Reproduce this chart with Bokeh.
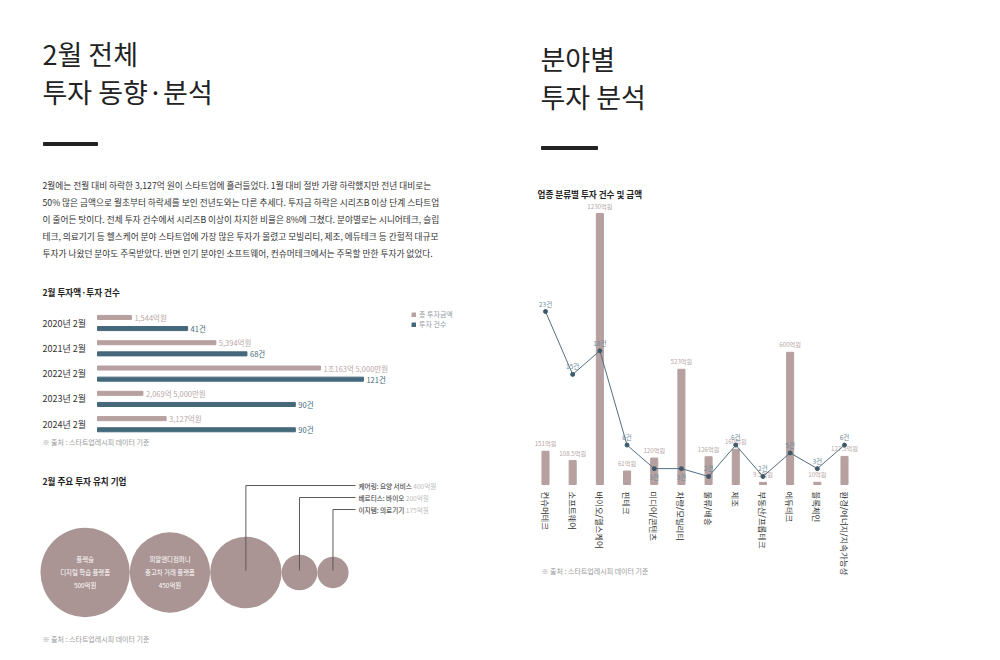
import math
from bokeh.plotting import figure
from bokeh.models import Range1d, ColumnDataSource, Legend, LegendItem
from bokeh.transform import dodge
from bokeh.embed import file_html
from bokeh.resources import INLINE
from bokeh.core.properties import value

FONT = value("Noto Sans CJK KR")

# ---------------- data ----------------
years = ["2020년 2월", "2021년 2월", "2022년 2월", "2023년 2월", "2024년 2월"]
amount_eok = [1544, 5394, 10163.5, 2069.5, 3127]
amount_labels = ["1,544억원", "5,394억원", "1조163억 5,000만원", "2,069억 5,000만원", "3,127억원"]
deal_counts = [41, 68, 121, 90, 90]

companies = ["플렉슬", "피알앤디컴퍼니", "케어링", "베르티스", "이지템"]
company_fields = ["디지털 학습 플랫폼", "중고차 거래 플랫폼", "요양 서비스", "바이오", "의료기기"]
company_amounts = [500, 450, 400, 200, 175]

sectors = ["컨슈머테크", "소프트웨어", "바이오/헬스케어", "핀테크", "미디어/콘텐츠", "차량/모빌리티",
           "물류/배송", "제조", "부동산/프롭테크", "에듀테크", "블록체인", "환경/에너지/지속가능성"]
sector_amounts = [151, 108.5, 1230, 61, 120, 523, 126, 160, 9.5, 600, 10, 127.5]
sector_counts = [23, 15, 18, 6, 3, 3, 2, 6, 2, 5, 3, 6]
count_label_side = ["above", "above", "above", "above", "below", "below",
                    "above", "above", "above", "above", "above", "above"]

paragraph = [
    "2월에는 전월 대비 하락한 3,127억 원이 스타트업에 흘러들었다. 1월 대비 절반 가량 하락했지만 전년 대비로는",
    "50% 많은 금액으로 월초부터 하락세를 보인 전년도와는 다른 추세다.  투자금 하락은 시리즈B 이상 단계 스타트업",
    "이 줄어든 탓이다. 전체 투자 건수에서 시리즈B 이상이 차지한 비율은 8%에 그쳤다. 분야별로는 시니어테크, 슬립",
    "테크, 의료기기 등 헬스케어 분야 스타트업에 가장 많은 투자가 몰렸고 모빌리티, 제조, 에듀테크 등 간헐적 대규모",
    "투자가 나왔던 분야도 주목받았다. 반면 인기 분야인 소프트웨어, 컨슈머테크에서는 주목할 만한 투자가 없었다.",
]
source_note = "※ 출처 : 스타트업레시피 데이터 기준"

# ---------------- style ----------------
PINK = "#b6a0a0"
PINK_LABEL = "#b9a7a7"
TEAL = "#45697b"
CIRCLE = "#aa9494"
LINE = "#52707f"
COUNT_LABEL = "#6f8c9b"
DARK = "#222222"
TEXT = "#333333"
GREY = "#9a9a9a"

W, H = 984, 644
X0, X1, Y0, Y1 = 0, W, 0, H  # picture pixel coordinates of the frame


def span_range(d0, p0, d1, p1, lo, hi):
    s = (p1 - p0) / (d1 - d0)
    return Range1d(d0 + (lo - p0) / s, d0 + (hi - p0) / s)


def xr(d0, p0, d1, p1):
    return span_range(d0, p0, d1, p1, X0, X1)


def yr(d0, p0, d1, p1):
    return span_range(d0, p0, d1, p1, Y1, Y0)


p = figure(width=W, height=H, x_range=Range1d(X0, X1), y_range=Range1d(Y1, Y0),
           output_backend="svg", toolbar_location=None, min_border=0,
           x_axis_location=None, y_axis_location=None)
p.grid.visible = False
p.outline_line_color = None
p.background_fill_color = "white"
p.border_fill_color = "white"

p.extra_x_ranges = {
    "amt": xr(0, 97, 10000, 97 + 219.4),
    "cnt": xr(0, 97, 100, 97 + 219.8),
    "bub": xr(0, 40, 1000, 40 + 89.3),
    "sec": xr(0, 545, 11, 844),
}
p.extra_y_ranges = {
    "yr": yr(0, 322.5, 1, 347.8),
    "samt": yr(0, 484, 1000, 484 - 220.3),
    "scnt": yr(0, 491.7, 20, 491.7 - 157.1),
}


def txt(x, y, s, size, color=TEXT, style="normal", align="left", baseline="middle"):
    p.text(x=[x], y=[y], text=[s], text_font=FONT, text_font_size=size, text_color=color,
           text_font_style=style, text_align=align, text_baseline=baseline)


# ---------------- titles ----------------
txt(42, 53, "2월 전체", "27px", DARK)
txt(42, 91, "투자 동향·분석", "27px", DARK)
p.quad(left=[43], right=[97], top=[142], bottom=[145], color=DARK)

txt(540, 58, "분야별", "27px", DARK)
txt(540, 96, "투자 분석", "27px", DARK)
p.quad(left=[541], right=[597], top=[146], bottom=[149], color=DARK)

for i, line in enumerate(paragraph):
    txt(42, 185 + 17 * i, line, "8.7px", TEXT)

# ---------------- left: yearly bars ----------------
txt(42, 291, "2월 투자액·투자 건수", "8.6px", DARK, "bold")
src_y = ColumnDataSource(dict(
    idx=list(range(len(years))), year=years, amt=amount_eok, amt_lab=amount_labels,
    cnt=deal_counts, cnt_lab=[f"{c}건" for c in deal_counts]))

r_amt = p.hbar(y=dodge("idx", -0.22), left=0, right="amt", height=0.16, source=src_y,
               x_range_name="amt", y_range_name="yr", color=PINK)
r_cnt = p.hbar(y=dodge("idx", 0.22), left=0, right="cnt", height=0.16, source=src_y,
               x_range_name="cnt", y_range_name="yr", color=TEAL)
p.text(x="amt", y=dodge("idx", -0.22), text="amt_lab", source=src_y, x_offset=3,
       x_range_name="amt", y_range_name="yr", text_font=FONT, text_font_size="7.5px",
       text_baseline="middle", text_color=PINK_LABEL)
p.text(x="cnt", y=dodge("idx", 0.22), text="cnt_lab", source=src_y, x_offset=3,
       x_range_name="cnt", y_range_name="yr", text_font=FONT, text_font_size="7.5px",
       text_baseline="middle", text_color=TEAL)
p.text(x=42, y="idx", text="year", source=src_y, y_range_name="yr", text_font=FONT,
       text_font_size="9px", text_baseline="middle", text_color=TEXT)

legend = Legend(items=[LegendItem(label="총 투자금액", renderers=[r_amt]),
                       LegendItem(label="투자 건수", renderers=[r_cnt])],
                location=(411, H - 329), orientation="vertical",
                label_text_font="Noto Sans CJK KR", label_text_font_size="7px",
                label_text_color="#8f9aa3", glyph_width=5, glyph_height=5,
                label_height=7, label_standoff=3, spacing=0, padding=0, margin=0,
                border_line_color=None, background_fill_alpha=0)
p.add_layout(legend)
txt(42, 441, source_note, "7px", GREY)

# ---------------- left: bubbles ----------------
txt(42, 480, "2월 주요 투자 유치 기업", "8.6px", DARK, "bold")
centers = []
acc = 0
for a in company_amounts:
    centers.append(acc + a)
    acc += 2 * a
BY = 572
src_b = ColumnDataSource(dict(cx=centers, r=company_amounts,
                              lab=[f"{n}\n{f}\n{a}억원" for n, f, a in zip(companies, company_fields, company_amounts)]))
p.circle(x="cx", y=BY, radius="r", radius_dimension="x", source=src_b, x_range_name="bub",
         fill_color=CIRCLE, line_color=None)

inner = ColumnDataSource(dict(cx=centers[:2], lab=src_b.data["lab"][:2]))
p.text(x="cx", y=BY, text="lab", source=inner, x_range_name="bub", text_font=FONT,
       text_font_size="6.4px", text_color="white", text_align="center",
       text_baseline="middle", text_line_height=1.45)

callout_x = (355 - 40) / 0.0893  # in bubble units
callout_y = [485, 497, 509]
for k, i in enumerate(range(2, 5)):
    cx = centers[i]
    ly = callout_y[k]
    p.line(x=[cx, cx, callout_x], y=[BY - 2, ly, ly], x_range_name="bub",
           line_color="#5a5a5a", line_width=1)
    full = f"{companies[i]}: {company_fields[i]} {company_amounts[i]}억원"
    name = f"{companies[i]}: {company_fields[i]}"
    for s, c in ((full, "#bdbdbd"), (name, "#4a4a4a")):
        p.text(x=[callout_x], y=[ly], text=[s], x_offset=3, x_range_name="bub",
               text_font=FONT, text_font_size="6.6px", text_color=c, text_baseline="middle")
txt(42, 638, source_note, "7px", GREY)

# ---------------- right: sectors ----------------
txt(537, 193, "업종 분류별 투자 건수 및 금액", "8.6px", DARK, "bold")
src_s = ColumnDataSource(dict(
    idx=list(range(len(sectors))), name=sectors, amt=sector_amounts, cnt=sector_counts,
    amt_lab=[f"{a:g}억원" for a in sector_amounts], cnt_lab=[f"{c}건" for c in sector_counts]))
p.vbar(x="idx", top="amt", bottom=0, width=0.26, source=src_s, x_range_name="sec",
       y_range_name="samt", color=PINK)
p.text(x="idx", y="amt", text="amt_lab", source=src_s, x_range_name="sec", y_range_name="samt",
       text_font=FONT, text_font_size="6.2px", text_color=PINK_LABEL, text_align="center",
       text_baseline="bottom", y_offset=-3)
p.line(x="idx", y="cnt", source=src_s, x_range_name="sec", y_range_name="scnt",
       line_color=LINE, line_width=1)
p.scatter(x="idx", y="cnt", source=src_s, x_range_name="sec", y_range_name="scnt",
          size=4, color="#3d5a6a")
for side, base, off in (("above", "bottom", -3), ("below", "top", 3)):
    sel = [i for i, sd in enumerate(count_label_side) if sd == side]
    sub = ColumnDataSource(dict(idx=sel, cnt=[sector_counts[i] for i in sel],
                                lab=[f"{sector_counts[i]}건" for i in sel]))
    p.text(x="idx", y="cnt", text="lab", source=sub, x_range_name="sec", y_range_name="scnt",
           text_font=FONT, text_font_size="6.6px", text_color=COUNT_LABEL, text_align="center",
           text_baseline=base, y_offset=off)
p.text(x="idx", y=491, text="name", source=src_s, x_range_name="sec", angle=-math.pi / 2,
       text_font=FONT, text_font_size="8.4px", text_color=TEXT, text_align="left",
       text_baseline="middle")
txt(541, 570, source_note, "7px", GREY)

open("out.html", "w").write(file_html(p, INLINE))
